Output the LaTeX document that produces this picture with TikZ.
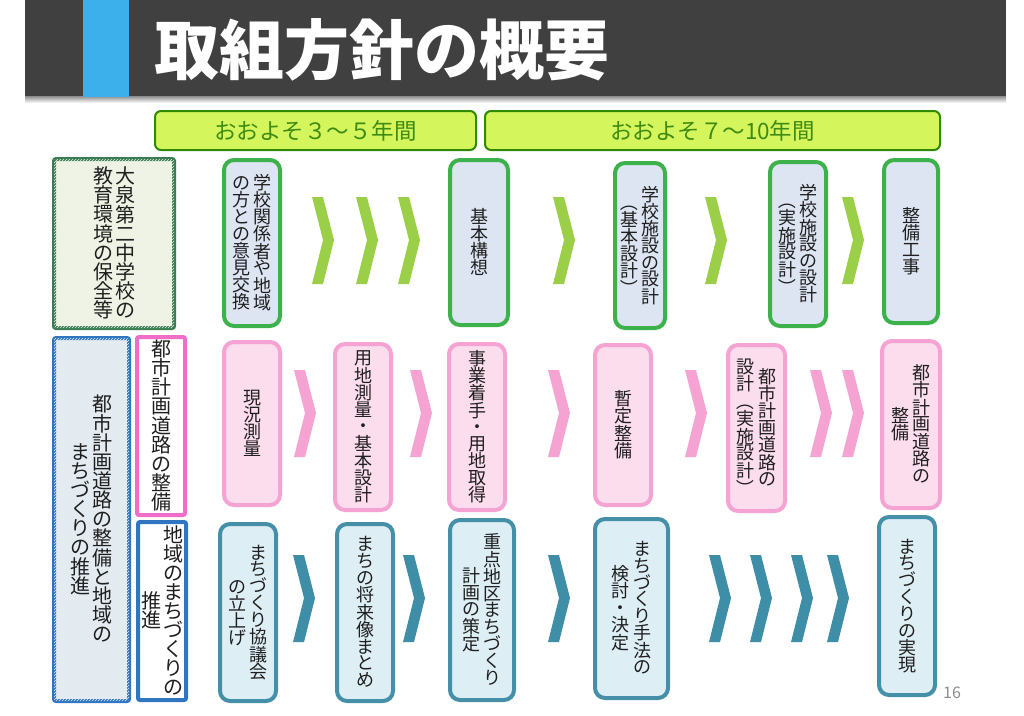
\documentclass[tikz,border=0pt]{standalone}
\usepackage{fontspec}
\setmainfont{Noto Sans CJK JP}
\usepackage{graphicx}
\usepackage{xcolor}
\usetikzlibrary{positioning, patterns}

\definecolor{titlegray}{HTML}{404040}
\definecolor{titleblue}{HTML}{3BB0EA}
\definecolor{barfill}{HTML}{D4F65C}
\definecolor{barline}{HTML}{2F8A00}
\definecolor{bartext}{HTML}{3E8A12}
\definecolor{schoolline}{HTML}{3DB24C}
\definecolor{schoolfill}{HTML}{DDE4F2}
\definecolor{roadline}{HTML}{F5A3D3}
\definecolor{roadfill}{HTML}{FBDDEE}
\definecolor{townline}{HTML}{4590A8}
\definecolor{townfill}{HTML}{DDEEF5}
\definecolor{chevgreen}{HTML}{9BCF48}
\definecolor{chevpink}{HTML}{F5A3D3}
\definecolor{chevteal}{HTML}{3F8EA8}
\definecolor{headgreen}{HTML}{3A7D52}
\definecolor{headgreenfill}{HTML}{F0F4E0}
\definecolor{headblue}{HTML}{2F75C1}
\definecolor{headbluefill}{HTML}{E1E9EE}
\definecolor{headpink}{HTML}{F26CC9}

% vertical writing: one column per \vcol, columns read right to left
\def\vcellh{.81em}
\def\vgap{.2em}
\newcommand\vstrut{\vrule height \vcellh depth .12em width 0pt}
\newcommand\lp{\rotatebox[origin=c]{-90}{（}}
\newcommand\rp{\rotatebox[origin=c]{-90}{）}}
\ExplSyntaxOn
\NewDocumentCommand\vcol{m}
 {
  $\vcenter{\offinterlineskip
   \tl_map_inline:nn {#1}
    { \hbox_to_wd:nn {1em} { \hss \vstrut ##1 \hss } }
   }$
 }
\ExplSyntaxOff
\newcommand\vtwo[2]{\vcol{#2}\hspace{\vgap}\vcol{#1}}

\begin{document}
\begin{tikzpicture}[x=1pt, y=-1pt,
  stepbase/.style={rounded corners=10pt, line width=4pt, inner sep=0pt,
    font=\fontsize{18}{20}\selectfont, text=black!88},
  schoolbox/.style={stepbase, draw=schoolline, fill=schoolfill},
  roadbox/.style={stepbase, draw=roadline, fill=roadfill},
  townbox/.style={stepbase, draw=townline, fill=townfill},
  headbox/.style={rounded corners=2pt, line width=4pt, inner sep=0pt,
    font=\fontsize{20}{22}\selectfont\def\vcellh{.83em}\def\vgap{.1em}, text=black!88},
  periodbar/.style={rounded corners=6pt, line width=2pt, draw=barline,
    fill=barfill, text=bartext, inner sep=0pt, minimum height=39,
    font=\fontsize{22.5}{24}\selectfont}]
\useasboundingbox (0,0) rectangle (1024,715);

% Title bar
\fill[titlegray] (25,0) rectangle (1006,96);
\shade[top color=black!45, bottom color=white] (25,96) rectangle (1006,103);
\fill[titleblue] (83,0) rectangle (129,97);
\node[anchor=west, text=white, font=\fontsize{65}{70}\selectfont\bfseries]
  (title) at (151,50) {取組方針の概要};

% Periods
\node[periodbar, minimum width=321] (short) at (315.5,130.5) {おおよそ３～５年間};
\node[periodbar, minimum width=455] (long) at (712.5,130.5) {おおよそ７～10年間};

% Row headers
\node[headbox, draw=headgreen, fill=headgreenfill, minimum width=120, minimum height=169,
  postaction={pattern=north east lines, pattern color=headgreen!9}]
  (school) at (114,243.5) {\vtwo{大泉第二中学校の}{教育環境の保全等}};
\node[headbox, draw=headblue, fill=headbluefill, minimum width=75, minimum height=363,
  postaction={pattern=north east lines, pattern color=headblue!10}]
  (town) at (91.5,519.5) {\vtwo{都市計画道路の整備と地域の}{まちづくりの推進}};
\node[headbox, draw=headpink, fill=white, minimum width=48, minimum height=178]
  (roadhead) at (161,426) {\vcol{都市計画道路の整備}};
\node[headbox, draw=headblue, fill=white, minimum width=48, minimum height=178]
  (townhead) at (162,611) {\vtwo{地域のまちづくりの}{推進}};

% School steps
\node[schoolbox, minimum width=56, minimum height=166] (s1) at (252,243) {\vtwo{学校関係者や地域}{の方との意見交換}};
\node[schoolbox, minimum width=58, minimum height=165] (s2) at (479,242.5) {\vcol{基本構想}};
\node[schoolbox, minimum width=50, minimum height=165] (s3) at (640,245.5) {\vtwo{学校施設の設計}{\lp 基本設計\rp}};
\node[schoolbox, minimum width=56, minimum height=164] (s4) at (798,244) {\vtwo{学校施設の設計}{\lp 実施設計\rp}};
\node[schoolbox, minimum width=54, minimum height=163] (s5) at (911,241.5) {\vcol{整備工事}};

% Road steps
\node[roadbox, minimum width=56, minimum height=163] (r1) at (252,423.5) {\vcol{現況測量}};
\node[roadbox, minimum width=56, minimum height=166] (r2) at (363,427) {\vcol{用地測量・基本設計}};
\node[roadbox, minimum width=56, minimum height=166] (r3) at (477,427) {\vcol{事業着手・用地取得}};
\node[roadbox, minimum width=56, minimum height=160] (r4) at (623,425) {\vcol{暫定整備}};
\node[roadbox, minimum width=57, minimum height=166] (r5) at (756.5,428) {\vtwo{都市計画道路の}{設計\lp 実施設計\rp}};
\node[roadbox, minimum width=58, minimum height=167] (r6) at (911,424.5) {\vtwo{都市計画道路の}{整備}};

% Town steps
\node[townbox, minimum width=56, minimum height=177] (t1) at (248,612.5) {\vtwo{まちづくり協議会}{の立上げ}};
\node[townbox, minimum width=56, minimum height=177] (t2) at (365,612.5) {\vcol{まちの将来像まとめ}};
\node[townbox, minimum width=64, minimum height=180] (t3) at (482,610) {\vtwo{重点地区まちづくり}{計画の策定}};
\node[townbox, minimum width=73, minimum height=179] (t4) at (631.5,608.5) {\vtwo{まちづくり手法の}{検討・決定}};
\node[townbox, minimum width=56, minimum height=178] (t5) at (907,606) {\vcol{まちづくりの実現}};

% Chevrons
\foreach \x in {312,356,398,553,705,842}
  \fill[chevgreen] (\x,197) -- ++(11,0) -- ++(11,43) -- ++(-11,44) -- ++(-11,0) -- ++(11,-44) -- cycle;
\foreach \x in {294,410,548,685,810,842}
  \fill[chevpink] (\x,370) -- ++(11,0) -- ++(11,43) -- ++(-11,44) -- ++(-11,0) -- ++(11,-44) -- cycle;
\foreach \x in {293,403,548,709,750,791,827}
  \fill[chevteal] (\x,555) -- ++(11,0) -- ++(11,43) -- ++(-11,44) -- ++(-11,0) -- ++(11,-44) -- cycle;

% Page number
\node[text=black!45, font=\fontsize{16}{18}\selectfont] (pageno) at (952,693) {16};
\end{tikzpicture}
\end{document}
